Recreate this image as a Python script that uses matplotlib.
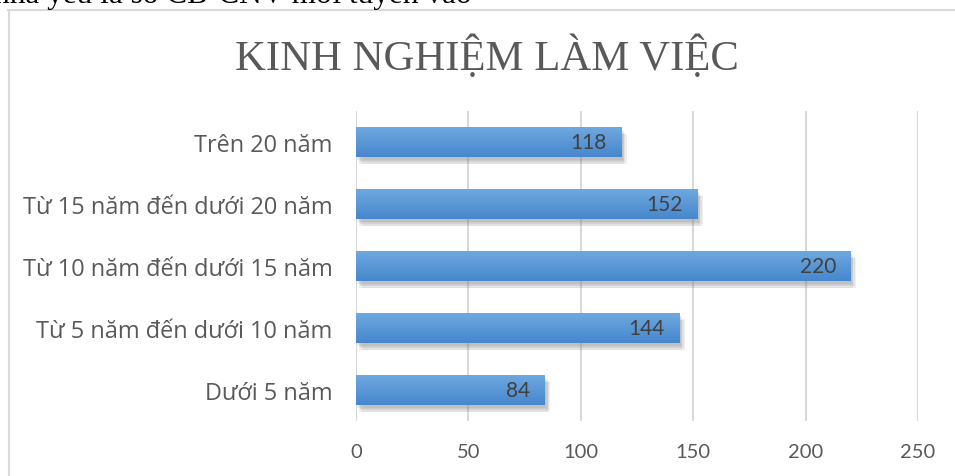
import matplotlib.pyplot as plt
import matplotlib.patheffects as pe
import numpy as np
from matplotlib.lines import Line2D
from matplotlib.colors import LinearSegmentedColormap

# Datos del gráfico
categories = ["Dưới 5 năm", "Từ 5 năm đến dưới 10 năm", "Từ 10 năm đến dưới 15 năm",
              "Từ 15 năm đến dưới 20 năm", "Trên 20 năm"]
values = [84, 144, 220, 152, 118]
x_ticks = [0, 50, 100, 150, 200, 250]
title = "KINH NGHIỆM LÀM VIỆC"
top_text = "nhà yêu là số CB-CNV mới tuyển vào"

W, H = 955, 477
fig = plt.figure(figsize=(W / 100, H / 100), dpi=100)
fig.patch.set_facecolor('white')

# Texto del documento cortado arriba
fig.text(-6 / W, 1 - 3 / H, top_text, family='Liberation Serif', fontsize=22.5,
         color='black', ha='left', va='baseline')

# Borde del área del gráfico
border = '#d9d9d9'
fig.add_artist(Line2D([8.5 / W, 8.5 / W], [0, 1 - 10.5 / H], color=border, lw=1.5))
fig.add_artist(Line2D([8 / W, 1], [1 - 10.5 / H, 1 - 10.5 / H], color=border, lw=1.5))

ax = fig.add_axes([356 / W, 1 - 422 / H, (918 - 356) / W, (422 - 112) / H])

y = np.arange(len(categories))
bar_h = 0.48
# sombra difusa: varias capas desplazadas
shadow = [pe.SimplePatchShadow(offset=(dx, dy), shadow_rgbFace='#7f7f7f', alpha=0.12)
          for dx, dy in [(1, -2), (2, -3), (3, -4), (2, -5), (4, -5)]]
bars = ax.barh(y, values, height=bar_h, color='#5b9bd5', zorder=3,
               path_effects=shadow + [pe.Normal()])

# Degradado vertical en cada barra
cmap = LinearSegmentedColormap.from_list('g', ['#4687cd', '#6ea8df'])
grad = np.linspace(0, 1, 64).reshape(-1, 1)
for b in bars:
    x0, y0 = b.get_x(), b.get_y()
    im = ax.imshow(grad, cmap=cmap, aspect='auto', origin='lower',
                   extent=[x0, x0 + b.get_width(), y0, y0 + b.get_height()], zorder=4)
    im.set_clip_path(b)
ax.set_xlim(0, 250)
ax.set_ylim(-0.5, 4.5)

for yi, v in zip(y, values):
    ax.text(v - 6.5, yi, str(v), ha='right', va='center', fontsize=15,
            family='Lato', color='#404040', zorder=5)

ax.set_xticks(x_ticks)
ax.set_yticks(y)
ax.set_yticklabels(categories, family='Open Sans', fontsize=16.9, color='#595959')
ax.set_xticklabels([str(t) for t in x_ticks], family='Lato', fontsize=14.5, color='#595959')
ax.tick_params(length=0)
ax.tick_params(axis='y', pad=17)
ax.tick_params(axis='x', pad=16)
ax.grid(axis='x', color='#d9d9d9', lw=1.5, zorder=0)
for s in ax.spines.values():
    s.set_visible(False)

fig.text(487 / W, 1 - 57 / H, title, family='Liberation Serif', fontsize=30.8,
         color='#595959', ha='center', va='center')

fig.savefig('out.png', dpi=100)
